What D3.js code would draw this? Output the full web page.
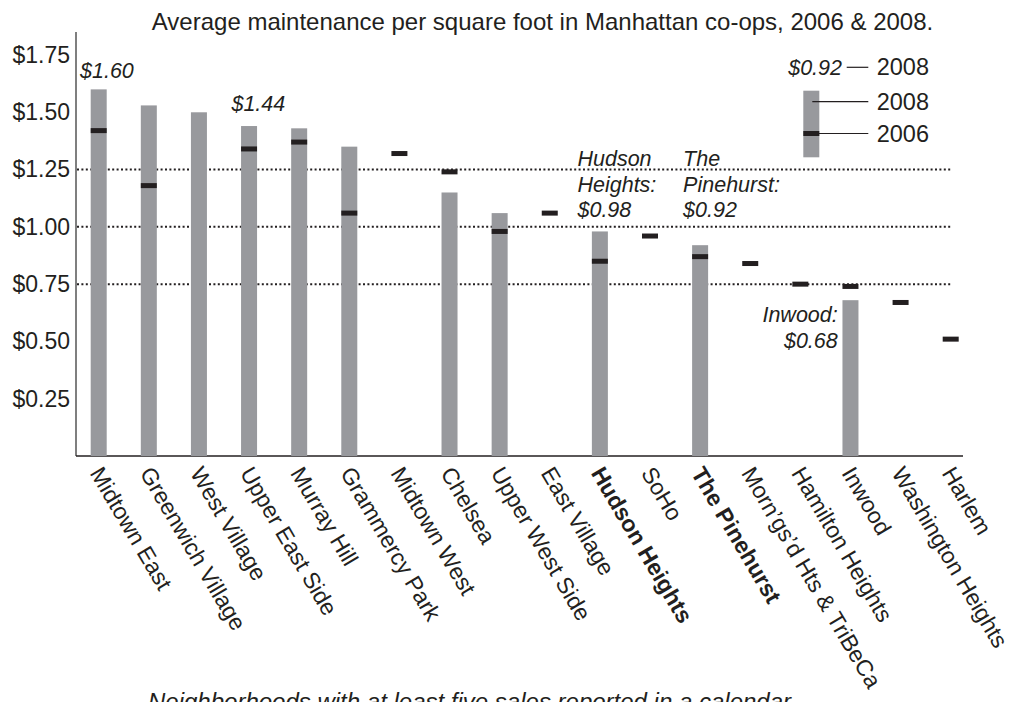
<!DOCTYPE html>
<html>
<head>
<meta charset="utf-8">
<script src="https://cdn.jsdelivr.net/npm/d3@7"></script>
<style>
    body { margin: 0; background: #fff; }
    svg { display: block; font-family: "Liberation Sans", Arial, Helvetica, sans-serif; }
</style>
</head>
<body>
<div id="chart"></div>
<script>

// neighborhoods, in the order they sit on the x axis
var neighborhoods = ["Midtown East", "Greenwich Village", "West Village", "Upper East Side",
    "Murray Hill", "Grammercy Park", "Midtown West", "Chelsea", "Upper West Side",
    "East Village", "Hudson Heights", "SoHo", "The Pinehurst", "Morn\u2019gs\u2019d Hts & TriBeCa",
    "Hamilton Heights", "Inwood", "Washington Heights", "Harlem"];

// 2008 average (grey bar), null = no bar
var avg2008 = [1.60, 1.53, 1.50, 1.44, 1.43, 1.35, null, 1.15, 1.06,
    null, 0.98, null, 0.92, null, null, 0.68, null, null];

// 2006 average (black tick), null = no tick
var avg2006 = [1.42, 1.18, null, 1.34, 1.37, 1.06, 1.32, 1.24, 0.98,
    1.06, 0.85, 0.96, 0.87, 0.84, 0.75, 0.74, 0.67, 0.51];

var boldNames = ["Hudson Heights", "The Pinehurst"];

var tickValues = [0.25, 0.50, 0.75, 1.00, 1.25, 1.50, 1.75];
var gridValues = [0.75, 1.00, 1.25];

var titleText = "Average maintenance per square foot in Manhattan co-ops, 2006 & 2008.";
var footText = "Neighborhoods with at least five sales reported in a calendar";

var W = 1016, H = 702;
var barW = 16, markH = 5;
var grey = "#98999d", ink = "#231f20";

var svg = d3.select("#chart").append("svg")
    .attr("width", W)
    .attr("height", H);

var x = d3.scalePoint()
    .domain(neighborhoods)
    .range([98.7, 950.7]);

var y = d3.scaleLinear()
    .domain([0, 1.75])
    .range([456, 55]);

// title
svg.append("text")
    .attr("x", 542.5)
    .attr("y", 29.5)
    .attr("text-anchor", "middle")
    .style("font-size", "24px")
    .attr("fill", ink)
    .text(titleText);

// dotted reference lines
svg.append("g").selectAll("line")
    .data(gridValues)
    .enter().append("line")
    .attr("x1", 77)
    .attr("x2", 952)
    .attr("y1", function(d) { return y(d); })
    .attr("y2", function(d) { return y(d); })
    .attr("stroke", ink)
    .attr("stroke-width", 2)
    .attr("stroke-dasharray", "2,2.4");

// y axis (labels only, line drawn by hand so it runs past the top tick)
var yAxis = d3.axisLeft(y)
    .tickValues(tickValues)
    .tickSize(0)
    .tickPadding(6)
    .tickFormat(function(d) { return "$" + d.toFixed(2); });

var gy = svg.append("g")
    .attr("transform", "translate(76,0)")
    .call(yAxis);
gy.select(".domain").remove();
gy.selectAll("text")
    .style("font-family", "\"Liberation Sans\", Arial, sans-serif")
    .style("font-size", "23px")
    .attr("fill", ink);

svg.append("line")
    .attr("x1", 76).attr("x2", 76)
    .attr("y1", 32).attr("y2", 456)
    .attr("stroke", "#555")
    .attr("stroke-width", 1.5);

svg.append("line")
    .attr("x1", 76).attr("x2", 963)
    .attr("y1", 456).attr("y2", 456)
    .attr("stroke", ink)
    .attr("stroke-width", 1.5);

// 2008 bars
svg.append("g").selectAll("rect")
    .data(neighborhoods.filter(function(d, i) { return avg2008[i] != null; }))
    .enter().append("rect")
    .attr("x", function(d) { return x(d) - barW / 2; })
    .attr("width", barW)
    .attr("y", function(d) { return y(avg2008[neighborhoods.indexOf(d)]); })
    .attr("height", function(d) { return y(0) - y(avg2008[neighborhoods.indexOf(d)]); })
    .attr("fill", grey);

// 2006 ticks
svg.append("g").selectAll("rect")
    .data(neighborhoods.filter(function(d, i) { return avg2006[i] != null; }))
    .enter().append("rect")
    .attr("x", function(d) { return x(d) - barW / 2; })
    .attr("width", barW)
    .attr("y", function(d) { return y(avg2006[neighborhoods.indexOf(d)]) - markH / 2; })
    .attr("height", markH)
    .attr("fill", ink);

// x labels, slanted
svg.append("g").selectAll("text")
    .data(neighborhoods)
    .enter().append("text")
    .attr("transform", function(d) {
        return "translate(" + (x(d) - 9.5) + ",473) rotate(59.5)";
    })
    .style("font-size", "23px")
    .style("font-weight", function(d) { return boldNames.indexOf(d) > -1 ? "bold" : "normal"; })
    .attr("fill", ink)
    .text(function(d) { return d; });

// italic notes
function note(lines, px, py, anchor) {
    var t = svg.append("text")
        .attr("text-anchor", anchor || "start")
        .style("font-size", "21.5px")
        .style("font-style", "italic")
        .attr("fill", ink);
    lines.forEach(function(s, i) {
        t.append("tspan")
            .attr("x", px)
            .attr("y", py + i * 25.8)
            .text(s);
    });
}

note(["$1.60"], x("Midtown East") - 18.7, y(1.60) - 11);
note(["$1.44"], x("Upper East Side") - 17.6, y(1.44) - 15.4);
note(["Hudson", "Heights:", "$0.98"], x("Hudson Heights") - 22.4, y(0.98) - 14 - 2 * 25.8);
note(["The", "Pinehurst:", "$0.92"], x("The Pinehurst") - 17, y(0.98) - 14 - 2 * 25.8);
note(["Inwood:", "$0.68"], x("Inwood") - 12.7, 321.7, "end");

// legend
var lg = svg.append("g");
lg.append("rect")
    .attr("x", 803.3).attr("y", 90.7)
    .attr("width", barW).attr("height", 66.6)
    .attr("fill", grey);
lg.append("rect")
    .attr("x", 803.3).attr("y", 131)
    .attr("width", barW).attr("height", markH)
    .attr("fill", ink);
lg.append("line")
    .attr("x1", 812.3).attr("x2", 868.3)
    .attr("y1", 101.7).attr("y2", 101.7)
    .attr("stroke", ink).attr("stroke-width", 1.2);
lg.append("line")
    .attr("x1", 819).attr("x2", 868.3)
    .attr("y1", 133.5).attr("y2", 133.5)
    .attr("stroke", ink).attr("stroke-width", 1.2);
lg.append("line")
    .attr("x1", 846.7).attr("x2", 868.3)
    .attr("y1", 67.3).attr("y2", 67.3)
    .attr("stroke", ink).attr("stroke-width", 1.2);
lg.append("text")
    .attr("x", 842).attr("y", 75)
    .attr("text-anchor", "end")
    .style("font-size", "21.5px")
    .style("font-style", "italic")
    .attr("fill", ink)
    .text("$0.92");
[["2008", 75], ["2008", 109.5], ["2006", 142]].forEach(function(r) {
    lg.append("text")
        .attr("x", 876.7).attr("y", r[1])
        .style("font-size", "23.5px")
        .attr("fill", ink)
        .text(r[0]);
});

// footnote, runs off the bottom edge like the source
svg.append("text")
    .attr("x", 148)
    .attr("y", 710)
    .style("font-size", "24px")
    .style("font-style", "italic")
    .attr("fill", ink)
    .text(footText);

</script>
</body>
</html>
